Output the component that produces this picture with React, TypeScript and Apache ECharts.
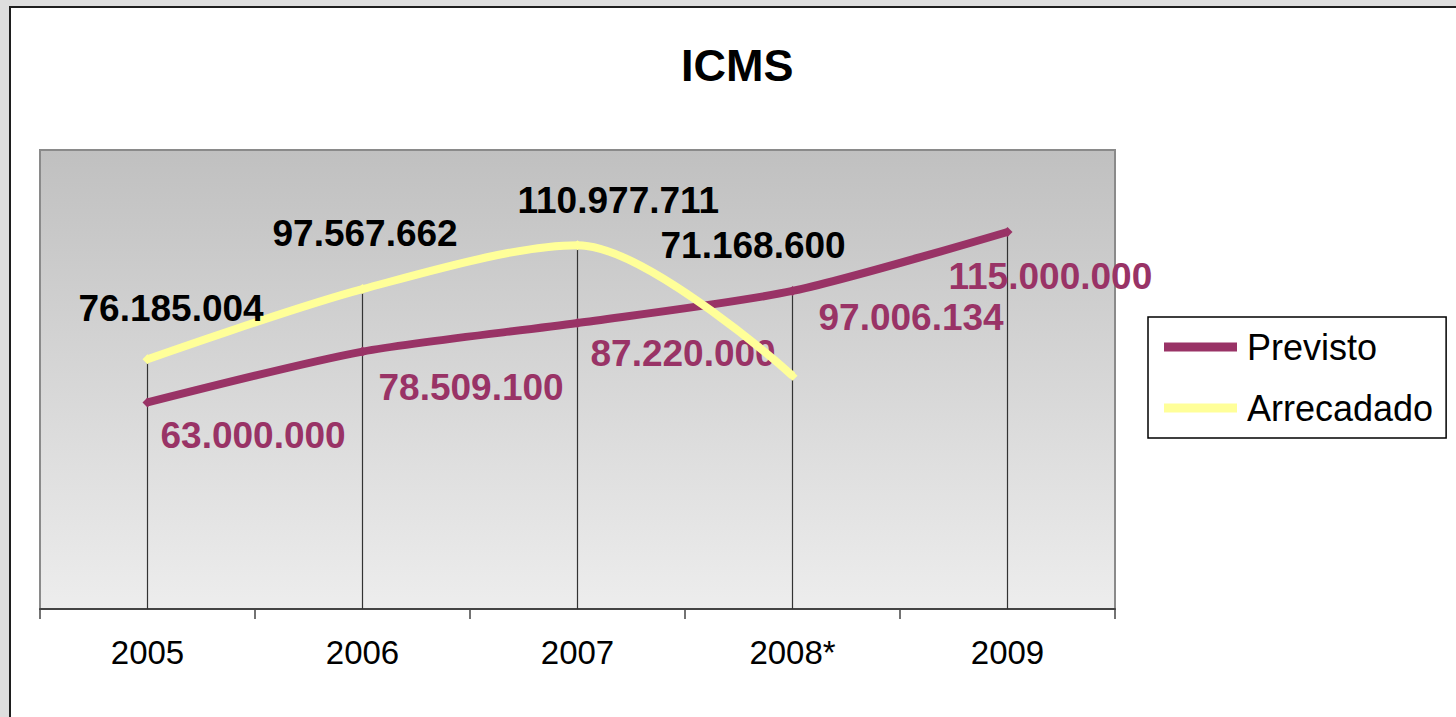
import React, { useEffect, useRef } from "react";
import * as echarts from "echarts";

const categories = ["2005", "2006", "2007", "2008*", "2009"];
const previsto = [63000000, 78509100, 87220000, 97006134, 115000000];
const arrecadado: (number | null)[] = [76185004, 97567662, 110977711, 71168600, null];
const yMin = 0;
const yMax = 140000000;

// label placement (style): [dx of left edge, dy of middle] relative to point
const PREV_LABEL_OFFSETS = [[13, 33], [16, 36], [13, 30], [26, 27], [-59, 45]];
const ARR_LABEL_OFFSETS = [[-69, -51], [-90, -56], [-60, -45], [-132, -130], [0, 0]];

const FONT = '"Liberation Sans", Arial, sans-serif';
const PURPLE = "#993366";
const YELLOW = "#ffff99";

function fmt(v: number): string {
  return String(v).replace(/\B(?=(\d{3})+(?!\d))/g, ".");
}

export default function App() {
  const ref = useRef<HTMLDivElement>(null);
  useEffect(() => {
    if (!ref.current) return;
    const chart = echarts.init(ref.current, null, { renderer: "svg" });
    const labelBase = {
      show: true,
      position: "inside",
      align: "left",
      verticalAlign: "middle",
      fontSize: 37,
      fontWeight: "bold",
      fontFamily: FONT,
    };
    const prevData = previsto.map((v, i) => ({
      value: v,
      label: { ...labelBase, color: PURPLE, offset: PREV_LABEL_OFFSETS[i], formatter: () => fmt(v) },
    }));
    const arrData = arrecadado.map((v, i) =>
      v == null
        ? null
        : {
            value: v,
            label: { ...labelBase, color: "#000", offset: ARR_LABEL_OFFSETS[i], formatter: () => fmt(v) },
          }
    );
    const dropData = categories.map((_, i) => [i, Math.max(previsto[i], arrecadado[i] ?? 0)]);

    chart.setOption({
      animation: false,
      backgroundColor: "#dedede",
      graphic: [
        {
          type: "rect",
          z: -100,
          shape: { x: 10, y: 7, width: 1500, height: 800 },
          style: { fill: "#fff", stroke: "#1e1e1e", lineWidth: 2 },
          silent: true,
        },
      ],
      title: {
        text: "ICMS",
        left: 676,
        top: 38,
        textStyle: { fontSize: 45, fontWeight: "bold", color: "#000", fontFamily: FONT },
      },
      legend: {
        orient: "vertical",
        left: 1148,
        top: 317,
        padding: [12, 13, 12, 16],
        itemGap: 25,
        itemWidth: 73,
        itemHeight: 9,
        icon: "rect",
        backgroundColor: "#fff",
        borderColor: "#000",
        borderWidth: 1.5,
        textStyle: { fontSize: 36, color: "#000", fontFamily: FONT, padding: [0, 0, 0, 5] },
        data: ["Previsto", "Arrecadado"],
      },
      grid: {
        left: 40,
        top: 150,
        width: 1075,
        height: 459,
        show: true,
        borderColor: "#8a8a8a",
        borderWidth: 2,
        backgroundColor: new echarts.graphic.LinearGradient(0, 0, 0, 1, [
          { offset: 0, color: "#c0c0c0" },
          { offset: 1, color: "#ededed" },
        ]),
      },
      xAxis: {
        type: "category",
        data: categories,
        boundaryGap: true,
        axisLine: { show: true, lineStyle: { color: "#444", width: 2 } },
        axisTick: { show: true, interval: 0, length: 10, lineStyle: { color: "#444", width: 1.5 } },
        axisLabel: { interval: 0, margin: 27, fontSize: 33, color: "#000", fontFamily: FONT },
        splitLine: { show: false },
      },
      yAxis: {
        type: "value",
        min: yMin,
        max: yMax,
        axisLine: { show: false },
        axisTick: { show: false },
        axisLabel: { show: false },
        splitLine: { show: false },
      },
      series: [
        {
          type: "custom",
          name: "drop",
          z: 1,
          silent: true,
          data: dropData,
          renderItem: (params: any, api: any) => {
            const top = api.coord([api.value(0), api.value(1)]);
            const bottom = api.coord([api.value(0), 0]);
            return {
              type: "line",
              shape: { x1: top[0], y1: top[1], x2: bottom[0], y2: bottom[1] },
              style: { stroke: "#333", lineWidth: 1.2 },
            };
          },
        },
        {
          type: "line",
          name: "Previsto",
          data: prevData,
          smooth: 0.25,
          symbol: "diamond",
          symbolSize: 10,
          showSymbol: true,
          lineStyle: { color: PURPLE, width: 8 },
          itemStyle: { color: PURPLE },
          z: 3,
        },
        {
          type: "line",
          name: "Arrecadado",
          data: arrData,
          smooth: 0.3,
          symbol: "diamond",
          symbolSize: 10,
          showSymbol: true,
          lineStyle: { color: YELLOW, width: 8 },
          itemStyle: { color: YELLOW },
          z: 4,
        },
      ],
    });
    return () => chart.dispose();
  }, []);
  return (
    <div
      ref={ref}
      style={{ position: "fixed", left: 0, top: 0, width: 1456, height: 717 }}
    />
  );
}
